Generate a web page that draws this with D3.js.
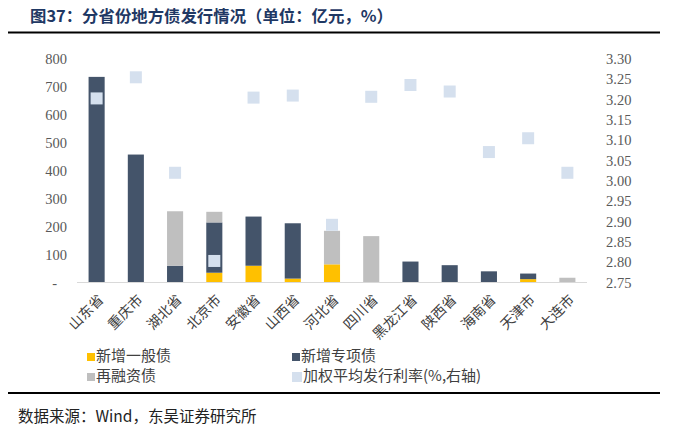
<!DOCTYPE html>
<html><head><meta charset="utf-8">
<script src="https://cdn.jsdelivr.net/npm/d3@7"></script>
<style>body{margin:0;background:#fff}svg{display:block}</style>
</head><body>
<script>
const categories = ["山东省","重庆市","湖北省","北京市","安徽省","山西省","河北省","四川省","黑龙江省","陕西省","海南省","天津市","大连市"];
const generalNew = [0,0,0,35,60,14,65,0,0,0,0,12,0];
const specialNew = [736,458,60,180,176,198,0,0,75,62,40,20,0];
const refinance = [0,0,195,38,0,0,120,166,0,0,0,0,17];
const rate = [3.203,3.255,3.02,2.803,3.205,3.21,2.892,3.207,3.236,3.220,3.071,3.105,3.02];
const leftTicks = [0,100,200,300,400,500,600,700,800];
const rightTicks = [2.75,2.80,2.85,2.90,2.95,3.00,3.05,3.10,3.15,3.20,3.25,3.30];
const seriesNames = ["新增一般债","新增专项债","再融资债","加权平均发行利率(%,右轴)"];
const colors = ["#ffc000","#44546a","#bfbfbf","#d5e0ee"];

const W=700,H=431;
const svg=d3.select("body").append("svg").attr("width",W).attr("height",H);
const serif="'Liberation Serif','Times New Roman',serif";
const cjk="'Noto Sans CJK SC','Noto Sans',sans-serif";

// title
svg.append("text").attr("x",30).attr("y",22).attr("font-family",cjk).attr("font-weight","bold")
  .attr("font-size",16.4).attr("fill","#1f3864").text("图37：分省份地方债发行情况（单位：亿元，%）");
svg.append("line").attr("x1",8).attr("x2",660).attr("y1",32.5).attr("y2",32.5).attr("stroke","#000").attr("stroke-width",2);
svg.append("line").attr("x1",8).attr("x2",660).attr("y1",393).attr("y2",393).attr("stroke","#000").attr("stroke-width",2);
svg.append("text").attr("x",18).attr("y",422).attr("font-family",cjk).attr("font-size",15.5).attr("fill","#222")
  .text("数据来源：Wind，东吴证券研究所");

const x=d3.scaleBand().domain(categories).range([77,587]).paddingInner(0.59).paddingOuter(0.295);
const y=d3.scaleLinear().domain([0,800]).range([282.5,59]);
const y2=d3.scaleLinear().domain([2.75,3.30]).range([282.5,59]);

// left axis
const la=svg.append("g").attr("transform","translate(67,0)")
  .call(d3.axisLeft(y).tickValues(leftTicks).tickSize(0).tickPadding(0).tickFormat(d=>d===0?"-":d));
la.select(".domain").remove();
la.selectAll("text").attr("font-family",serif).attr("font-size",14.5).attr("fill","#595959")
  .attr("dx",d=>d===0?-10:0);
// right axis
const ra=svg.append("g").attr("transform","translate(606,0)")
  .call(d3.axisRight(y2).tickValues(rightTicks).tickSize(0).tickPadding(0).tickFormat(d3.format(".2f")));
ra.select(".domain").remove();
ra.selectAll("text").attr("font-family",serif).attr("font-size",14.5).attr("fill","#595959");

// stacked bars
const data=categories.map((c,i)=>({cat:c,g:generalNew[i],s:specialNew[i],r:refinance[i]}));
const stack=d3.stack().keys(["g","s","r"])(data);
svg.append("g").selectAll("g").data(stack).join("g").attr("fill",(d,i)=>colors[i])
  .selectAll("rect").data(d=>d).join("rect")
  .attr("x",d=>x(d.data.cat)).attr("width",x.bandwidth())
  .attr("y",d=>y(d[1])).attr("height",d=>y(d[0])-y(d[1]));

// baseline
svg.append("line").attr("x1",77).attr("x2",587).attr("y1",282.5).attr("y2",282.5).attr("stroke","#d9d9d9").attr("stroke-width",1);

// markers
const ms=12;
svg.append("g").selectAll("rect").data(categories).join("rect")
  .attr("x",(d)=>x(d)+x.bandwidth()/2-ms/2).attr("y",(d,i)=>y2(rate[i])-ms/2)
  .attr("width",ms).attr("height",ms).attr("fill",colors[3]);

// x labels
svg.append("g").selectAll("text").data(categories).join("text")
  .attr("transform",d=>`translate(${x(d)+x.bandwidth()/2+5},${298}) rotate(-45)`)
  .attr("text-anchor","end").attr("dominant-baseline","middle")
  .attr("font-family",cjk).attr("font-size",14).attr("fill","#404040").text(d=>d);

// legend
const leg=[{n:0,x:87,y:357},{n:1,x:292,y:357},{n:2,x:87,y:377},{n:3,x:292,y:377}];
const lg=svg.append("g").selectAll("g").data(leg).join("g").attr("transform",d=>`translate(${d.x},${d.y})`);
lg.append("rect").attr("x",0).attr("y",d=>d.n===3?-5:-4).attr("width",d=>d.n===3?10:8).attr("height",d=>d.n===3?10:8).attr("fill",d=>colors[d.n]);
lg.append("text").attr("x",d=>d.n===3?11:9).attr("y",0).attr("dominant-baseline","middle")
  .attr("font-family",cjk).attr("font-size",15).attr("fill","#404040").text(d=>seriesNames[d.n]);
</script>
</body></html>
